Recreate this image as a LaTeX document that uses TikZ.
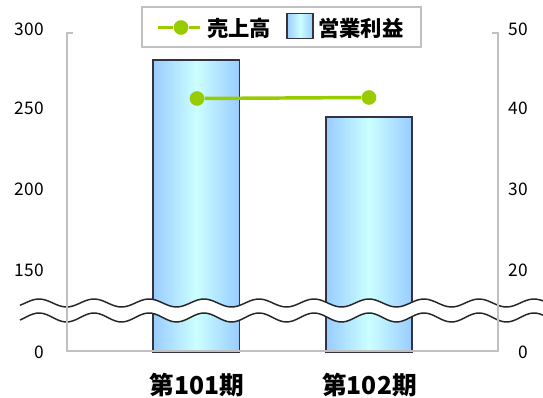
\documentclass[tikz,border=0pt]{standalone}
\usepackage{fontspec}
\setmainfont{Noto Sans CJK JP}
\definecolor{linegreen}{HTML}{99CC00}
\definecolor{barblue}{HTML}{99CCFF}
\definecolor{barcyan}{HTML}{CCFFFF}
\definecolor{axisgray}{HTML}{C0C0C0}
\definecolor{barborder}{HTML}{333344}
\tikzset{
  ticklabel/.style={anchor=east, inner sep=0pt, font=\fontsize{13pt}{14pt}\selectfont},
  catlabel/.style={anchor=base, inner sep=0pt, font=\fontsize{18.5pt}{20pt}\selectfont\bfseries},
  legtext/.style={anchor=west, inner sep=0pt, font=\fontsize{16pt}{18pt}\selectfont\bfseries},
  barfill/.style={left color=barblue, right color=barblue, middle color=barcyan, draw=barborder, line width=0.9pt},
  axisline/.style={draw=axisgray, line width=1.1pt},
  wave/.style={draw=black!85, line width=1.1pt},
  dot/.style={circle, fill=linegreen, inner sep=0pt, minimum size=11pt},
}
\begin{document}
\begin{tikzpicture}[x=0.75pt, y=-0.75pt]
\useasboundingbox (0,0) rectangle (543,398);
\fill[white] (0,0) rectangle (543,398);

% bars
\path[barfill] (153,60) rectangle (239.5,352);
\path[barfill] (326,117) rectangle (412,352);

% break band
\fill[white] plot[domain=20:543, samples=160, smooth] (\x,{303-4*cos(6.54545*(\x-39))})
  -- plot[domain=543:20, samples=160, smooth] (\x,{317.5-4.5*cos(6.54545*(\x-39))}) -- cycle;
\draw[wave] plot[domain=20:543, samples=160, smooth] (\x,{303-4*cos(6.54545*(\x-39))});
\draw[wave] plot[domain=20:543, samples=160, smooth] (\x,{317.5-4.5*cos(6.54545*(\x-39))});

% axes
\coordinate (tl) at (67,33);
\coordinate (bl) at (67,351);
\coordinate (br) at (498,351);
\coordinate (tr) at (498,33);
\draw[axisline] ([xshift=4.5]tl) -- (tl) -- (bl) -- (br) -- (tr) -- ([xshift=-4.5]tr);

% tick labels left
\node[ticklabel] (l300) at (44,29) {300};
\node[ticklabel] (l250) at (44,108.5) {250};
\node[ticklabel] (l200) at (44,189) {200};
\node[ticklabel] (l150) at (44,270) {150};
\node[ticklabel] (l0) at (44,352) {0};
% tick labels right
\node[ticklabel] (r50) at (528,29) {50};
\node[ticklabel] (r40) at (528,108.5) {40};
\node[ticklabel] (r30) at (528,189) {30};
\node[ticklabel] (r20) at (528,270) {20};
\node[ticklabel] (r0) at (528,352) {0};

% sales line
\node[dot] (p1) at (197,98.5) {};
\node[dot] (p2) at (369,97.5) {};
\draw[linegreen, line width=2.6pt] (p1) -- (p2);

% categories
\node[catlabel] (c1) at (197,395) {第101期};
\node[catlabel] (c2) at (369.5,395) {第102期};

% legend
\draw[draw=axisgray, line width=0.8pt, fill=white] (142,7) rectangle (421,47);
\coordinate (la) at (158,27.5);
\coordinate (lb) at (200,27.5);
\node[dot] (ld) at (181,27.5) {};
\draw[linegreen, line width=2.6pt] (la) -- (ld) -- (lb);
\node[legtext] (lt1) at (207,28) {売上高};
\path[barfill, line width=1pt] (287,13.5) rectangle (313,38.5);
\node[legtext] (lt2) at (318,28) {営業利益};
\end{tikzpicture}
\end{document}
